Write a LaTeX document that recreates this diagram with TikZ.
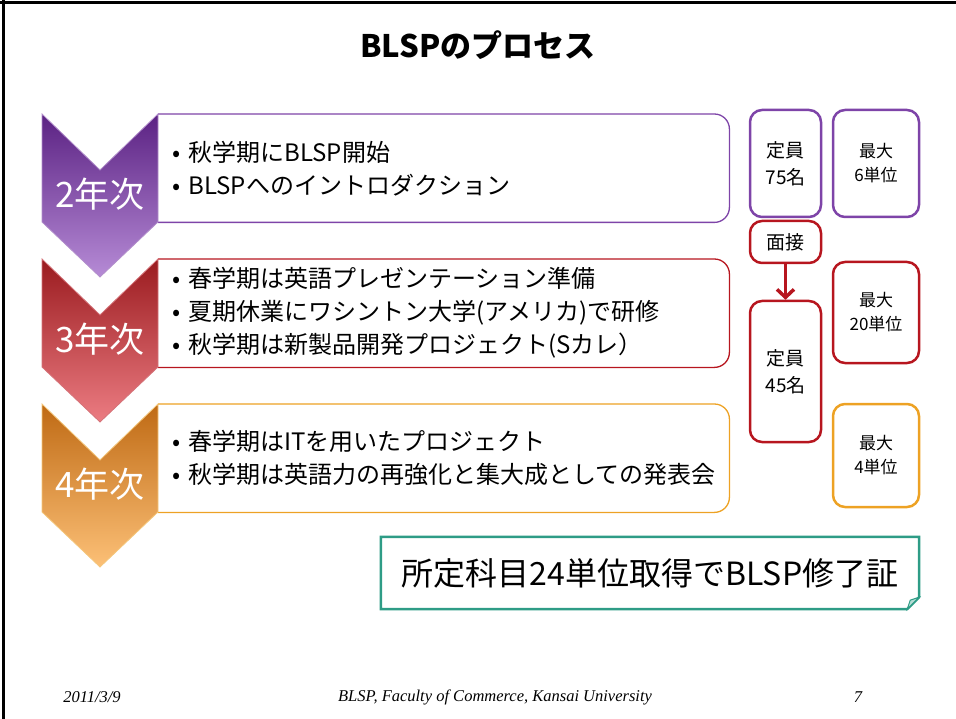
\documentclass[tikz,border=0pt]{standalone}
\usepackage{fontspec}
\setmainfont{Noto Sans CJK JP}
\newfontfamily\footfont{Liberation Serif}
\usetikzlibrary{positioning,arrows.meta}
\definecolor{purpDark}{HTML}{5B2283}
\definecolor{purpLight}{HTML}{B68BD6}
\definecolor{purpEdge}{HTML}{7E44A8}
\definecolor{redDark}{HTML}{9A1B1F}
\definecolor{redLight}{HTML}{EC7C82}
\definecolor{redEdge}{HTML}{B7161F}
\definecolor{orgDark}{HTML}{BF6A14}
\definecolor{orgLight}{HTML}{FCC077}
\definecolor{orgEdge}{HTML}{EDA224}
\definecolor{certEdge}{HTML}{2E9C86}
\def\stagesep{145}

\begin{document}
\begin{tikzpicture}[x=1pt,y=-1pt]
    \tikzstyle{stagebox}=[inner sep=0pt, minimum width=571pt, minimum height=108pt, anchor=north west]
    \tikzstyle{boxline}=[line width=1.3pt, rounded corners=15pt]
    \tikzstyle{yearlabel}=[text=white, font=\fontsize{35}{35}\selectfont]
    \tikzstyle{bullets}=[align=left, inner sep=0pt, font=\fontsize{24}{33}\selectfont]
    \tikzstyle{capbox}=[draw, line width=2.5pt, rounded corners=12pt, inner sep=0pt, align=center,
        minimum width=71pt, font=\fontsize{19}{27}\selectfont]
    \tikzstyle{unitbox}=[capbox, minimum width=86pt, minimum height=103pt, font=\fontsize{17}{24}\selectfont]
    \tikzstyle{certbox}=[inner sep=0pt, minimum width=538pt, minimum height=72pt, font=\fontsize{32}{32}\selectfont]
    \tikzstyle{foot}=[font=\footfont\itshape\fontsize{16.5}{16.5}\selectfont]

    \useasboundingbox (0,0) rectangle (956,719);

    % slide frame
    \draw[line width=3pt] (0,3) -- (956,3);
    \draw[line width=3pt] (3,0) -- (3,719);

    \node[font=\bfseries\fontsize{31}{31}\selectfont] (title) at (478,45) {BLSPのプロセス};

    % the three years: box, chevron, label
    \foreach \n/\yr/\top/\dark/\light/\edge in {1/2/114/purpDark/purpLight/purpEdge,
                                               2/3/259/redDark/redLight/redEdge,
                                               3/4/404/orgDark/orgLight/orgEdge}
    {
        \node[stagebox] (box-\n) at (158,\top) {};
        \draw[boxline, draw=\edge] (box-\n.north west) -- (box-\n.north east)
            -- (box-\n.south east) -- (box-\n.south west);
        \path[top color=\dark, bottom color=\light, draw=\edge!60!white, line width=0.8pt]
            (42,\top) -- (100,\top+56) -- (158,\top) -- (158,\top+108)
            -- (100,\top+163) -- (42,\top+108) -- cycle;
        \node[yearlabel] (yr-\n) at (100,\top+80) {\yr 年次};
    }

    \node[bullets, right=14pt of box-1.west] (txt-1)
        {•\hspace{8pt}秋学期にBLSP開始\\•\hspace{8pt}BLSPへのイントロダクション};
    \node[bullets, right=14pt of box-2.west] (txt-2)
        {•\hspace{8pt}春学期は英語プレゼンテーション準備\\•\hspace{8pt}夏期休業にワシントン大学(アメリカ)で研修\\•\hspace{8pt}秋学期は新製品開発プロジェクト(Sカレ）};
    \node[bullets, right=14pt of box-3.west] (txt-3)
        {•\hspace{8pt}春学期はITを用いたプロジェクト\\•\hspace{8pt}秋学期は英語力の再強化と集大成としての発表会};

    % capacity and credits
    \node[capbox, draw=purpEdge, minimum height=107pt] (cap-1) at (785.5,163.5) {定員\\75名};
    \node[capbox, draw=redEdge, minimum height=42pt] (interview) at (785.5,242) {面接};
    \node[capbox, draw=redEdge, minimum height=141pt] (cap-2) at (785.5,371.5) {定員\\45名};
    \draw[redEdge, line width=3.5pt, -{Straight Barb[length=8pt,width=17pt]}] (interview) -- (cap-2);

    \node[unitbox, draw=purpEdge, minimum height=107pt] (unit-1) at (876,163.5) {最大\\6単位};
    \node[unitbox, draw=redEdge, minimum height=101pt] (unit-2) at (876,312.5) {最大\\20単位};
    \node[unitbox, draw=orgEdge] (unit-3) at (876,455.5) {最大\\4単位};

    % certificate
    \node[certbox] (cert) at (650,573) {所定科目24単位取得でBLSP修了証};
    \draw[certEdge, line width=2.5pt] (cert.north west) -- (cert.north east)
        -- ([yshift=12pt]cert.south east) -- ([xshift=-12pt]cert.south east)
        -- (cert.south west) -- cycle;
    \filldraw[fill=certEdge!35!white, draw=certEdge, line width=1pt]
        ([yshift=12pt]cert.south east) -- ([xshift=-12pt]cert.south east)
        -- ([xshift=-9pt,yshift=9pt]cert.south east) -- cycle;

    % footer
    \node[foot] (date) at (92,697) {2011/3/9};
    \node[foot] (org) at (495,697) {BLSP, Faculty of Commerce, Kansai University};
    \node[foot] (page) at (858,697) {7};
\end{tikzpicture}
\end{document}
